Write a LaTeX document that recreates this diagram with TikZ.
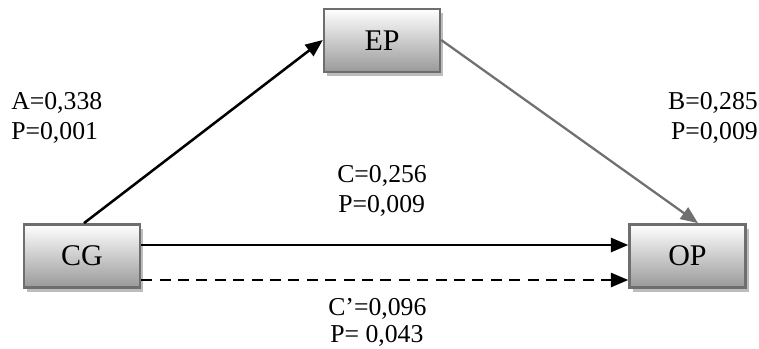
\documentclass[tikz,border=0pt]{standalone}
\usepackage{fontspec}
\setmainfont{Liberation Serif}
\usetikzlibrary{arrows.meta,shadows}
\definecolor{boxline}{HTML}{6E6E6E}
\definecolor{boxshadow}{HTML}{BDBDBD}
\definecolor{greyarrow}{HTML}{707070}
\tikzset{
  varbox/.style={draw=boxline, line width=1.8pt, rectangle,
    minimum width=87pt, minimum height=47.5pt, inner sep=0pt,
    top color=white, bottom color=black!40,
    drop shadow={shadow xshift=2.6pt, shadow yshift=-3.2pt, fill=boxshadow, opacity=1},
    font=\fontsize{22.5}{26}\selectfont},
  coef/.style={anchor=base west, inner sep=0pt, font=\fontsize{19.3}{23}\selectfont},
  path/.style={line width=1.9pt, -{Triangle[length=13pt,width=10.5pt]}},
  greypath/.style={line width=1.7pt, draw=greyarrow, -{Triangle[length=13pt,width=10.5pt]}, color=greyarrow}
}
\begin{document}
\begin{tikzpicture}[x=0.75pt, y=-0.75pt]
  \useasboundingbox (0,0) rectangle (759,349);

  % variables
  \node[varbox] (ep) at (382,40.5) {EP};
  \node[varbox] (cg) at (82,256) {CG};
  \node[varbox] (op) at (687.5,256) {OP};

  % paths
  \draw[path] (cg.north -| 84,0) -- (ep.west |- 0,40);
  \draw[greypath] (ep.east |- 0,40) -- (op.north -| 698,0);
  \draw[path] (cg.east |- 0,245) -- (op.west |- 0,245);
  \draw[path, dash pattern=on 8.2pt off 5.6pt] (cg.east |- 0,280) -- (op.west |- 0,280);

  % coefficients
  \node[coef] (a1) at (11,110) {A=0,338};
  \node[coef] (a2) at (11,139) {P=0,001};
  \node[coef, anchor=base east] (b1) at (758,110) {B=0,285};
  \node[coef, anchor=base east] (b2) at (758,139) {P=0,009};
  \node[coef] (c1) at (337,182) {C=0,256};
  \node[coef] (c2) at (338,212) {P=0,009};
  \node[coef] (d1) at (328,315) {C’=0,096};
  \node[coef] (d2) at (330,342) {P= 0,043};
\end{tikzpicture}
\end{document}
